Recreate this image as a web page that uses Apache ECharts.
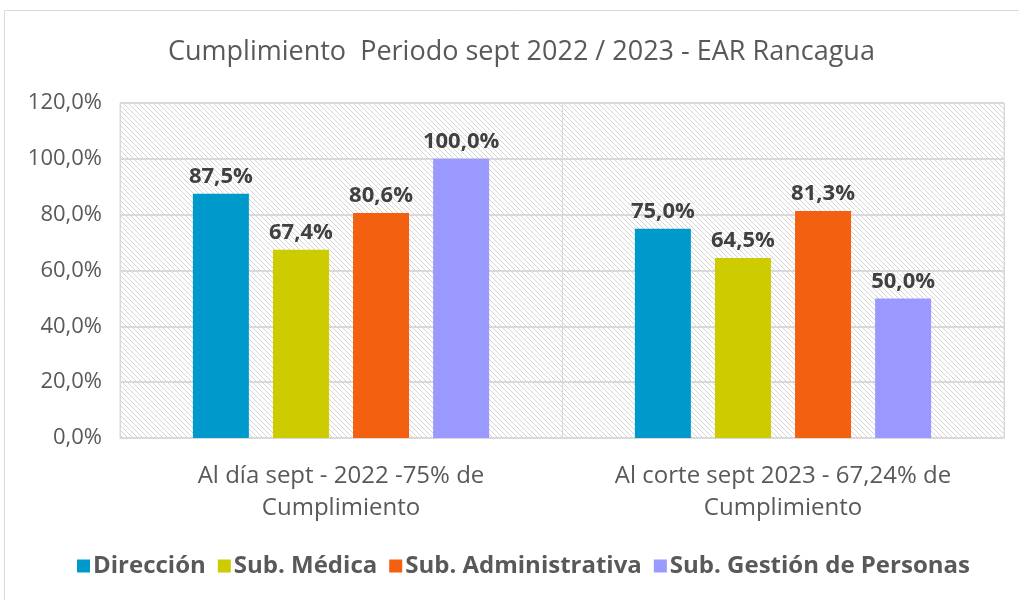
<!DOCTYPE html>
<html><head><meta charset="utf-8">
<script src="https://cdn.jsdelivr.net/npm/echarts@6/dist/echarts.min.js"></script>
<style>html,body{margin:0;padding:0;background:#fff}#c{width:1019px;height:600px}</style>
</head><body><div id="c"></div>
<script>
const categories = ['Al día sept - 2022 -75% de\nCumplimiento', 'Al corte sept 2023 - 67,24% de\nCumplimiento'];
const seriesNames = ['Dirección', 'Sub. Médica', 'Sub. Administrativa', 'Sub. Gestión de Personas'];
const direccion = [87.5, 75.0];
const medica = [67.4, 64.5];
const administrativa = [80.6, 81.3];
const gestion = [100.0, 50.0];
const yTicks = [0, 20, 40, 60, 80, 100, 120];
const colors = ['#0099CC', '#CCCC00', '#F26010', '#9999FF'];

const pc = document.createElement('canvas');
pc.width = 5; pc.height = 5;
const g = pc.getContext('2d');
g.fillStyle = '#fff'; g.fillRect(0,0,5,5);
g.strokeStyle = '#d4d4d4'; g.lineWidth = 1;
g.beginPath();
g.moveTo(-1,-1); g.lineTo(6,6);
g.moveTo(-1,4); g.lineTo(1,6);
g.moveTo(4,-1); g.lineTo(6,1);
g.stroke();

const fmt = v => v.toFixed(1).replace('.', ',') + '%';
const font = '"Open Sans", Lato, sans-serif';
const values = [direccion, medica, administrativa, gestion];

const chart = echarts.init(document.getElementById('c'));
chart.setOption({
  animation: false,
  textStyle: {fontFamily: font},
  title: {text: 'Cumplimiento  Periodo sept 2022 / 2023 - EAR Rancagua', left: 163, top: 34,
    textStyle: {fontFamily: font, fontSize: 27, fontWeight: 'normal', color: '#595959'}},
  graphic: [{type: 'rect', shape: {x: 4.5, y: 10.5, width: 1030, height: 600}, style: {fill: 'none', stroke: '#d9d9d9', lineWidth: 1}, silent: true}],
  grid: {left: 120, right: 15, top: 103, bottom: 162, show: true, backgroundColor: {image: pc, repeat: 'repeat'}, borderColor: '#d9d9d9', borderWidth: 1},
  legend: {bottom: 17, left: 72, itemWidth: 13, itemHeight: 13, itemGap: 12, icon: 'rect',
    textStyle: {fontFamily: font, fontSize: 24, fontWeight: 'bold', color: '#595959', padding: [0,0,0,-2]}},
  xAxis: {type: 'category', data: categories,
    axisLine: {lineStyle: {color: '#d9d9d9', width: 1}}, axisTick: {show: false},
    splitLine: {show: true, lineStyle: {color: '#d9d9d9'}},
    axisLabel: {fontFamily: font, fontSize: 24, color: '#595959', lineHeight: 32, margin: 22, interval: 0}},
  yAxis: {type: 'value', min: 0, max: 120, interval: 20,
    axisLine: {show: false}, axisTick: {show: false},
    splitLine: {lineStyle: {color: '#d9d9d9', width: 2}},
    axisLabel: {fontFamily: font, fontSize: 22, color: '#595959', margin: 18,
      formatter: v => yTicks.includes(v) ? v.toFixed(1).replace('.', ',') + '%' : ''}},
  series: seriesNames.map((n, i) => ({
    name: n, type: 'bar', data: values[i], barWidth: 56, barGap: '43%',
    itemStyle: {color: colors[i]},
    label: {show: true, position: 'top', distance: 6, formatter: p => fmt(p.value),
      fontFamily: font, fontSize: 22, fontWeight: 'bold', color: '#404040'}
  }))
});
</script></body></html>
